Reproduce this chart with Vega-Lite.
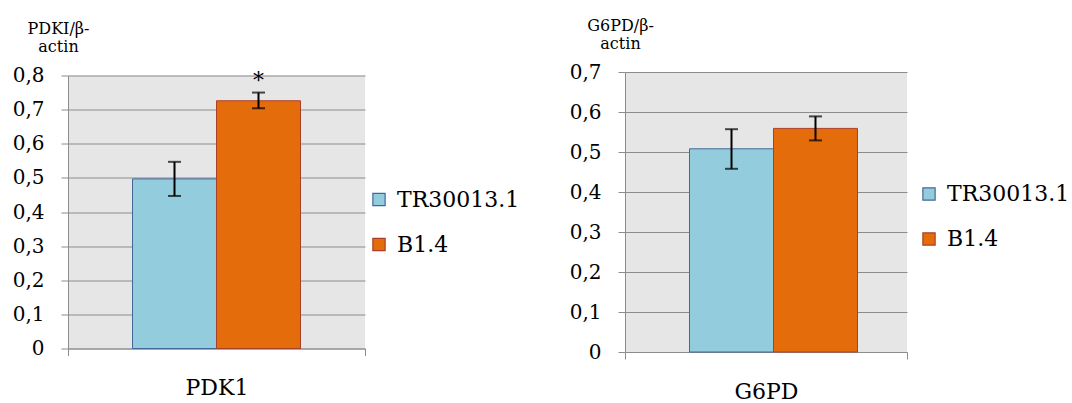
{
  "$schema": "https://vega.github.io/schema/vega-lite/v6.json",
  "background": "white",
  "padding": {"left": 12, "top": 17, "right": 0, "bottom": 0},
  "datasets": {
    "expr": [
      {"gene": "PDK1", "group": "TR30013.1", "value": 0.497, "lo": 0.447, "hi": 0.547, "sig": ""},
      {"gene": "PDK1", "group": "B1.4", "value": 0.726, "lo": 0.704, "hi": 0.750, "sig": "*"},
      {"gene": "G6PD", "group": "TR30013.1", "value": 0.508, "lo": 0.458, "hi": 0.557, "sig": ""},
      {"gene": "G6PD", "group": "B1.4", "value": 0.559, "lo": 0.529, "hi": 0.589, "sig": ""}
    ]
  },
  "data": {"name": "expr"},
  "spacing": 49,
  "center": true,
  "resolve": {"legend": {"color": "independent", "stroke": "independent"}},
  "hconcat": [
    {
      "width": 297,
      "height": 273,
      "transform": [{"filter": "datum.gene === 'PDK1'"}],
      "encoding": {
        "x": {
          "field": "gene", "type": "nominal", "title": null,
          "scale": {"paddingInner": 0, "paddingOuter": 0},
          "axis": {"tickBand": "extent", "labelAngle": 0, "labelFontSize": 22, "labelPadding": 22, "labelBaseline": "top"}
        },
        "xOffset": {
          "field": "group", "type": "nominal", "sort": ["TR30013.1", "B1.4"],
          "scale": {"paddingInner": 0, "paddingOuter": 0.768}
        }
      },
      "layer": [
        {
          "mark": {"type": "bar", "strokeWidth": 1},
          "encoding": {
            "y": {
              "field": "value", "type": "quantitative",
              "scale": {"domain": [0, 0.8], "nice": false},
              "axis": {
                "values": [0, 0.1, 0.2, 0.3, 0.4, 0.5, 0.6, 0.7, 0.8],
                "labelOverlap": false,
                "labelExpr": "datum.value === 0 ? '0' : replace(format(datum.value, '.1f'), '.', ',')",
                "title": ["PDKI/β-", "actin"],
                "titleX": -10, "titleY": -42
              }
            },
            "color": {
              "field": "group", "type": "nominal", "sort": ["TR30013.1", "B1.4"],
              "scale": {"domain": ["TR30013.1", "B1.4"], "range": ["#93CDDD", "#E46C0A"]},
              "legend": {"legendX": 300, "legendY": 113}
            },
            "stroke": {
              "field": "group", "type": "nominal", "sort": ["TR30013.1", "B1.4"],
              "scale": {"domain": ["TR30013.1", "B1.4"], "range": ["#44679A", "#A8402A"]},
              "legend": {"legendX": 300, "legendY": 113}
            }
          }
        },
        {
          "mark": {"type": "rule", "color": "black", "strokeWidth": 2},
          "encoding": {
            "y": {
              "field": "lo", "type": "quantitative",
              "axis": {
                "values": [0, 0.1, 0.2, 0.3, 0.4, 0.5, 0.6, 0.7, 0.8],
                "labelOverlap": false,
                "labelExpr": "datum.value === 0 ? '0' : replace(format(datum.value, '.1f'), '.', ',')",
                "title": ["PDKI/β-", "actin"],
                "titleX": -10, "titleY": -42
              }
            },
            "y2": {"field": "hi"}
          }
        },
        {
          "mark": {"type": "tick", "color": "black", "thickness": 2, "size": 13},
          "encoding": {
            "y": {
              "field": "lo", "type": "quantitative",
              "axis": {
                "values": [0, 0.1, 0.2, 0.3, 0.4, 0.5, 0.6, 0.7, 0.8],
                "labelOverlap": false,
                "labelExpr": "datum.value === 0 ? '0' : replace(format(datum.value, '.1f'), '.', ',')",
                "title": ["PDKI/β-", "actin"],
                "titleX": -10, "titleY": -42
              }
            }
          }
        },
        {
          "mark": {"type": "tick", "color": "black", "thickness": 2, "size": 13},
          "encoding": {
            "y": {
              "field": "hi", "type": "quantitative",
              "axis": {
                "values": [0, 0.1, 0.2, 0.3, 0.4, 0.5, 0.6, 0.7, 0.8],
                "labelOverlap": false,
                "labelExpr": "datum.value === 0 ? '0' : replace(format(datum.value, '.1f'), '.', ',')",
                "title": ["PDKI/β-", "actin"],
                "titleX": -10, "titleY": -42
              }
            }
          }
        },
        {
          "mark": {"type": "text", "fontSize": 22, "baseline": "middle", "dy": -12, "color": "black"},
          "encoding": {
            "y": {
              "field": "hi", "type": "quantitative",
              "axis": {
                "values": [0, 0.1, 0.2, 0.3, 0.4, 0.5, 0.6, 0.7, 0.8],
                "labelOverlap": false,
                "labelExpr": "datum.value === 0 ? '0' : replace(format(datum.value, '.1f'), '.', ',')",
                "title": ["PDKI/β-", "actin"],
                "titleX": -10, "titleY": -42
              }
            },
            "text": {"field": "sig"}
          }
        }
      ]
    },
    {
      "width": 282,
      "height": 280,
      "transform": [{"filter": "datum.gene === 'G6PD'"}],
      "encoding": {
        "x": {
          "field": "gene", "type": "nominal", "title": null,
          "scale": {"paddingInner": 0, "paddingOuter": 0},
          "axis": {"tickBand": "extent", "labelAngle": 0, "labelFontSize": 22, "labelPadding": 22, "labelBaseline": "top"}
        },
        "xOffset": {
          "field": "group", "type": "nominal", "sort": ["TR30013.1", "B1.4"],
          "scale": {"paddingInner": 0, "paddingOuter": 0.75}
        }
      },
      "layer": [
        {
          "mark": {"type": "bar", "strokeWidth": 1},
          "encoding": {
            "y": {
              "field": "value", "type": "quantitative",
              "scale": {"domain": [0, 0.7], "nice": false},
              "axis": {
                "values": [0, 0.1, 0.2, 0.3, 0.4, 0.5, 0.6, 0.7],
                "labelOverlap": false,
                "labelExpr": "datum.value === 0 ? '0' : replace(format(datum.value, '.1f'), '.', ',')",
                "title": ["G6PD/β-", "actin"],
                "titleX": -5, "titleY": -42
              }
            },
            "color": {
              "field": "group", "type": "nominal", "sort": ["TR30013.1", "B1.4"],
              "scale": {"domain": ["TR30013.1", "B1.4"], "range": ["#93CDDD", "#E46C0A"]},
              "legend": {"legendX": 293, "legendY": 111}
            },
            "stroke": {
              "field": "group", "type": "nominal", "sort": ["TR30013.1", "B1.4"],
              "scale": {"domain": ["TR30013.1", "B1.4"], "range": ["#44679A", "#A8402A"]},
              "legend": {"legendX": 293, "legendY": 111}
            }
          }
        },
        {
          "mark": {"type": "rule", "color": "black", "strokeWidth": 2},
          "encoding": {
            "y": {
              "field": "lo", "type": "quantitative",
              "axis": {
                "values": [0, 0.1, 0.2, 0.3, 0.4, 0.5, 0.6, 0.7],
                "labelOverlap": false,
                "labelExpr": "datum.value === 0 ? '0' : replace(format(datum.value, '.1f'), '.', ',')",
                "title": ["G6PD/β-", "actin"],
                "titleX": -5, "titleY": -42
              }
            },
            "y2": {"field": "hi"}
          }
        },
        {
          "mark": {"type": "tick", "color": "black", "thickness": 2, "size": 13},
          "encoding": {
            "y": {
              "field": "lo", "type": "quantitative",
              "axis": {
                "values": [0, 0.1, 0.2, 0.3, 0.4, 0.5, 0.6, 0.7],
                "labelOverlap": false,
                "labelExpr": "datum.value === 0 ? '0' : replace(format(datum.value, '.1f'), '.', ',')",
                "title": ["G6PD/β-", "actin"],
                "titleX": -5, "titleY": -42
              }
            }
          }
        },
        {
          "mark": {"type": "tick", "color": "black", "thickness": 2, "size": 13},
          "encoding": {
            "y": {
              "field": "hi", "type": "quantitative",
              "axis": {
                "values": [0, 0.1, 0.2, 0.3, 0.4, 0.5, 0.6, 0.7],
                "labelOverlap": false,
                "labelExpr": "datum.value === 0 ? '0' : replace(format(datum.value, '.1f'), '.', ',')",
                "title": ["G6PD/β-", "actin"],
                "titleX": -5, "titleY": -42
              }
            }
          }
        }
      ]
    }
  ],
  "config": {
    "font": "DejaVu Serif",
    "view": {"fill": "#E6E6E6", "stroke": null},
    "axis": {
      "labelFont": "DejaVu Serif",
      "labelColor": "black",
      "labelFontSize": 20,
      "labelPadding": 17,
      "titleFont": "DejaVu Serif",
      "titleFontSize": 16,
      "titleFontWeight": "normal",
      "titleColor": "black",
      "titleAngle": 0,
      "titleAlign": "center",
      "titleBaseline": "alphabetic",
      "titleLineHeight": 18,
      "domainColor": "#8C8C8C",
      "tickColor": "#8C8C8C",
      "tickSize": 7,
      "gridColor": "#8C8C8C",
      "gridWidth": 1
    },
    "axisX": {"grid": false},
    "legend": {
      "orient": "none",
      "title": null,
      "symbolType": "square",
      "symbolSize": 150,
      "symbolStrokeWidth": 1.2,
      "symbolOpacity": 1,
      "labelFont": "DejaVu Serif",
      "labelFontSize": 22,
      "labelColor": "black",
      "labelOffset": 7,
      "rowPadding": 23,
      "labelLimit": 300
    }
  }
}
